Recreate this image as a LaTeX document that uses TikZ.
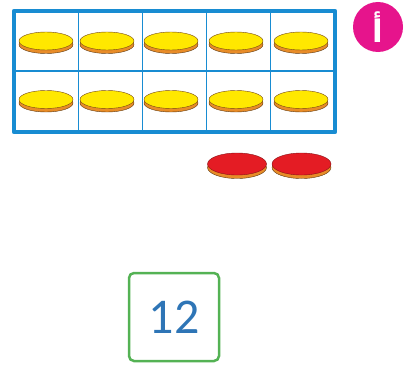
\documentclass[tikz,border=0pt]{standalone}
\usepackage{fontspec}
\newfontfamily\numfont{Carlito}
\newfontfamily\arabicfont[Script=Arabic]{DejaVu Sans}
\TeXXeTstate=1
\definecolor{frameblue}{RGB}{24,140,210}
\definecolor{diskyellow}{RGB}{255,232,0}
\definecolor{diskorange}{RGB}{232,140,40}
\definecolor{diskred}{RGB}{228,28,36}
\definecolor{badgepink}{RGB}{230,20,140}
\definecolor{boxgreen}{RGB}{84,178,84}
\definecolor{numblue}{RGB}{46,117,182}
\tikzset{
  frameline/.style={draw=frameblue, line width=4.5pt, line join=round},
  cellline/.style={draw=frameblue, line width=1.2pt},
  rim/.style={fill=diskorange, draw=black!60!diskorange, line width=0.4pt},
  yellowtop/.style={fill=diskyellow, draw=black!50!diskorange, line width=0.4pt},
  redtop/.style={fill=diskred, draw=black!40!diskred, line width=0.4pt},
  badge/.style={circle, fill=badgepink, minimum size=50pt, inner sep=0pt, text=white},
  answerbox/.style={draw=boxgreen, line width=2.5pt, rounded corners=5pt, minimum width=90pt, minimum height=88pt, text=numblue}
}
\begin{document}
\begin{tikzpicture}[x=1pt, y=-1pt]
    \useasboundingbox (0,0) rectangle (406,369);
    % ten frame
    \foreach \i in {1,...,4}
        \draw[cellline] (14+64.2*\i,11) -- (14+64.2*\i,132);
    \draw[cellline] (14,71) -- (335,71);
    \draw[frameline] (14,11) rectangle (335,132);
    % yellow counters
    \foreach \cx in {46,107,171,236,301}
        \foreach \cy in {41,99.5} {
            \filldraw[rim] (\cx,\cy+3.5) ellipse (27 and 9);
            \filldraw[yellowtop] (\cx,\cy) ellipse (27 and 9);
        }
    % red counters
    \foreach \cx in {237,301.5} {
        \filldraw[rim] (\cx,167.5) ellipse (29.5 and 11);
        \filldraw[redtop] (\cx,164) ellipse (29.5 and 11);
    }
    \node[badge] (letter) at (378,27) {\arabicfont\bfseries\fontsize{31}{33}\selectfont\beginR أ\endR};
    \node[answerbox] (answer) at (174,317) {\numfont\fontsize{50}{52}\selectfont 12};
\end{tikzpicture}
\end{document}
